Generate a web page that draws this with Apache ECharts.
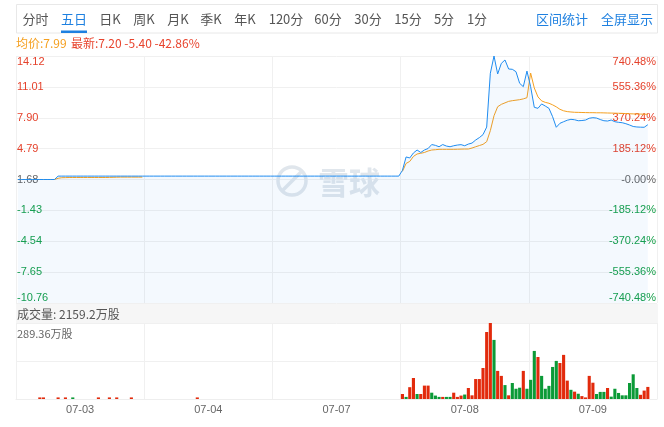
<!DOCTYPE html>
<html><head><meta charset="utf-8">
<script src="https://cdn.jsdelivr.net/npm/echarts@6/dist/echarts.min.js"></script>
<style>html,body{margin:0;padding:0;background:#fff}#c{width:664px;height:427px}</style>
</head><body><div id="c"></div>
<script>
// ---------- data ----------
const basePrice = 1.68;           // reference price of the 5-day chart
const priceStep = 3.11;           // y tick step
const dayLabels = ['07-03', '07-04', '07-07', '07-08', '07-09'];
const slotsPerDay = 35;
const volMax = 289.36;            // 万股
const headerAvg = '均价:7.99';
const headerLast = '最新:7.20 -5.40 -42.86%';
const headerVol = '成交量: 2159.2万股';
const tabs = ['分时','五日','日K','周K','月K','季K','年K','120分','60分','30分','15分','5分','1分'];
const tabsRight = ['区间统计','全屏显示'];

const priceDay1 = [1.68,1.68,1.68,1.68,1.68,1.68,1.68,1.68,1.68,1.68,1.68,2.02,2.02,2.02,2.02,2.02,2.02,2.02,2.02,2.02,2.02,2.02,2.02,2.02,2.02,2.02,2.02,2.02,2.02,2.02,2.02,2.02,2.02,2.02,2.02];
const priceDay2 = [2.02,2.02,2.02,2.02,2.02,2.02,2.02,2.02,2.02,2.02,2.02,2.02,2.02,2.02,2.02,2.02,2.02,2.02,2.02,2.02,2.02,2.02,2.02,2.02,2.02,2.02,2.02,2.02,2.02,2.02,2.02,2.02,2.02,2.02,2.02];
const priceDay3 = [2.02,2.02,2.02,2.02,2.02,2.02,2.02,2.02,2.02,2.02,2.02,2.02,2.02,2.02,2.02,2.02,2.02,2.02,2.02,2.02,2.02,2.02,2.02,2.02,2.02,2.02,2.02,2.02,2.02,2.02,2.02,2.02,2.02,2.02,2.02];
const priceDay4 = [2.6,3.95,3.85,4.35,4.65,4.4,4.65,4.8,5.2,5.12,4.98,5.2,5.05,4.98,5.08,5.15,5.19,5.08,5.25,5.35,5.66,5.9,6.2,6.96,12.38,14.12,12.31,13.38,13.72,12.81,12.78,12.54,11.37,11.03,12.60];
const priceDay5 = [11.03,8.95,8.85,9.29,9.08,8.85,8.01,6.94,7.34,7.5,7.65,7.74,7.7,7.6,7.62,7.67,7.85,7.91,7.87,7.72,7.6,7.57,7.67,7.5,7.44,7.40,7.3,7.17,7.02,6.97,6.95,6.94,7.20];

const avgDay1 = [1.68,1.68,1.68,1.68,1.68,1.68,1.68,1.68,1.68,1.68,1.68,1.8,1.86,1.87,1.88,1.88,1.88,1.88,1.88,1.88,1.88,1.88,1.88,1.88,1.88,1.89,1.9,1.91,1.92,1.92,1.92,1.92,1.92,1.92,1.92];
const avgDay2 = [];
const avgDay3 = [];
const avgDay4 = [2.5,3.3,3.5,4.0,4.25,4.32,4.4,4.55,4.65,4.68,4.72,4.72,4.72,4.72,4.72,4.73,4.74,4.75,4.75,4.85,4.98,5.1,5.22,5.49,6.6,8.1,9.01,9.25,9.4,9.55,9.62,9.67,9.72,9.8,9.92];
const avgDay5 = [12.4,10.9,10.0,9.6,9.45,9.36,9.2,9.0,8.75,8.6,8.52,8.48,8.45,8.44,8.43,8.42,8.41,8.41,8.4,8.4,8.39,8.38,8.37,8.36,8.35,8.34,8.32,8.3,8.29,8.28,8.27,8.26,8.25];

const volDay1 = [0,0,0,0,0,0,6,6,0,0,0,6,0,6,0,6,0,0,0,0,0,0,6,0,0,6,0,6,0,0,0,6,0,0,0];
const volDay2 = [0,0,0,0,0,0,0,0,0,0,0,0,0,0,6,0,0,0,0,0,0,0,0,0,0,0,0,0,0,0,0,0,0,0,0];
const volDay3 = [0,0,0,0,0,0,0,0,0,0,0,0,0,0,0,0,0,0,0,0,0,0,0,0,0,0,0,0,0,0,0,0,0,0,0];
const volDay4 = [19,8,45,80,19,19,51,51,24,13,8,8,8,8,24,8,13,17,42,14,76,76,118,255,289.36,225,107,88,53,14,61,39,43,107,39];
const volDay5 = [73,183,160,88,39,50,122,145,137,168,70,35,28,20,11,6,88,62,19,27,27,42,9,39,23,14,14,61,94,42,16,32,46];
// 1 = up (red), -1 = down (green)
const dirDay1 = [1,1,1,1,1,1,1,1,1,1,1,1,1,1,1,-1,1,1,1,1,1,1,1,1,1,1,1,1,1,1,1,1,1,1,1];
const dirDay2 = [1,1,1,1,1,1,1,1,1,1,1,1,1,1,1,1,1,1,1,1,1,1,1,1,1,1,1,1,1,1,1,1,1,1,1];
const dirDay3 = [1,1,1,1,1,1,1,1,1,1,1,1,1,1,1,1,1,1,1,1,1,1,1,1,1,1,1,1,1,1,1,1,1,1,1];
const dirDay4 = [1,-1,1,1,-1,1,1,1,-1,-1,-1,1,-1,-1,1,1,1,-1,1,1,1,1,1,1,1,-1,1,1,-1,1,-1,-1,-1,1,-1];
const dirDay5 = [-1,-1,1,-1,-1,-1,-1,-1,1,1,1,-1,1,-1,1,1,1,1,-1,-1,-1,1,-1,-1,-1,-1,-1,-1,-1,-1,1,1,1];

// ---------- build ----------
const RED = '#e5412b', GREEN = '#17a04a', GRAY = '#666';
const BAR_RED = '#e22a0c', BAR_GREEN = '#0b9a37';
const FONT = '"Liberation Sans", Arial, "Noto Sans CJK SC", sans-serif';
const CJK = '"Noto Sans CJK SC", "Liberation Sans", sans-serif';

function pad(arr) { const a = arr.slice(); while (a.length < slotsPerDay) a.push(null); return a; }
const cats = [];
dayLabels.forEach(d => { for (let i = 0; i < slotsPerDay; i++) cats.push(d + '#' + i); });
const priceDays = [priceDay1, priceDay2, priceDay3, priceDay4, priceDay5];
const avgDays = [avgDay1, avgDay2, avgDay3, avgDay4, avgDay5];
const volDays = [volDay1, volDay2, volDay3, volDay4, volDay5];
const dirDays = [dirDay1, dirDay2, dirDay3, dirDay4, dirDay5];
// plotted relative to the base price so that ticks sit on base ± k*step
const priceData = [].concat(...priceDays.map(pad)).map(v => v == null ? null : +(v - basePrice).toFixed(4));
const avgData = [].concat(...avgDays.map(pad)).map(v => v == null ? null : +(v - basePrice).toFixed(4));
const volData = [];
volDays.forEach((vd, k) => { pad(vd).forEach((v, i) => {
  volData.push(v == null ? null : { value: v, itemStyle: { color: dirDays[k][i] > 0 ? BAR_RED : BAR_GREEN } });
}); });
const halfRange = priceStep * 4;

const gridLine = { show: true, lineStyle: { color: '#f0f0f0', width: 1 } };
const daySplit = { show: true, interval: (idx) => idx % slotsPerDay === 0, lineStyle: { color: '#f0f0f0', width: 1 } };
const signColor = (v) => { const n = parseFloat(v); return n > 1e-6 ? RED : (n < -1e-6 ? GREEN : GRAY); };

const graphics = [
  { type: 'rect', shape: { x: 16.5, y: 4.5, width: 641, height: 28.5 }, style: { fill: '#fff', stroke: '#e8e8e8', lineWidth: 1 }, z: 0 },
  { type: 'rect', shape: { x: 61, y: 30.5, width: 26, height: 2.5 }, style: { fill: '#1e80e0' }, z: 1 },
  { type: 'text', x: 16, y: 43, style: { text: headerAvg, fill: '#f5a020', font: '12px ' + CJK, textVerticalAlign: 'middle' } },
  { type: 'text', x: 71, y: 43, style: { text: headerLast, fill: '#e8442e', font: '12px ' + CJK, textVerticalAlign: 'middle' } },
  { type: 'rect', shape: { x: 16, y: 304, width: 642, height: 19 }, style: { fill: '#f6f6f6' }, z: 0 },
  { type: 'text', x: 17, y: 314, style: { text: headerVol, fill: '#555', font: '12px ' + CJK, textVerticalAlign: 'middle' } },
  { type: 'text', x: 17, y: 334, style: { text: volMax.toFixed(2) + '万股', fill: '#666', font: '11px ' + CJK, textVerticalAlign: 'middle' } },
  // watermark
  { type: 'circle', shape: { cx: 292, cy: 181, r: 14 }, style: { fill: 'none', stroke: '#e0e6ec', lineWidth: 3.5 }, z: 1 },
  { type: 'line', shape: { x1: 283, y1: 190, x2: 301, y2: 172 }, style: { stroke: '#e0e6ec', lineWidth: 3.5 }, z: 1 },
  { type: 'text', x: 318, y: 182, style: { text: '雪球', fill: '#e0e6ec', font: 'bold 31px ' + CJK, textVerticalAlign: 'middle' }, z: 1 }
];
const tabX = [35.5, 74, 110, 144, 178, 211, 245, 286, 328, 368, 408, 444, 477];
tabs.forEach((t, i) => graphics.push({ type: 'text', x: tabX[i], y: 19, z: 2,
  style: { text: t, fill: i === 1 ? '#1e80e0' : '#555', font: '13px ' + CJK, textAlign: 'center', textVerticalAlign: 'middle' } }));
const tabRX = [562, 627];
tabsRight.forEach((t, i) => graphics.push({ type: 'text', x: tabRX[i], y: 19, z: 2,
  style: { text: t, fill: '#1e80e0', font: '13px ' + CJK, textAlign: 'center', textVerticalAlign: 'middle' } }));

const option = {
  animation: false,
  backgroundColor: '#fff',
  graphic: graphics,
  grid: [
    { left: 16, right: 7, top: 56, height: 247 },
    { left: 16, right: 7, top: 323, height: 76 }
  ],
  xAxis: [
    { type: 'category', gridIndex: 0, data: cats, boundaryGap: true,
      axisLine: { show: false }, axisTick: { show: false }, axisLabel: { show: false }, splitLine: daySplit },
    { type: 'category', gridIndex: 1, data: cats, boundaryGap: true,
      axisLine: { show: true, lineStyle: { color: '#eeeeee' } }, axisTick: { show: false },
      axisLabel: { interval: (idx) => idx % slotsPerDay === 17, formatter: (v) => v.split('#')[0],
        color: '#666', fontSize: 11, fontFamily: FONT, margin: 5 },
      splitLine: daySplit }
  ],
  yAxis: [
    { type: 'value', gridIndex: 0, position: 'left', min: -halfRange, max: halfRange, interval: priceStep,
      axisLine: { show: false }, axisTick: { show: false }, splitLine: gridLine,
      axisLabel: { inside: true, margin: 1, fontSize: 11, fontFamily: FONT,
        verticalAlignMaxLabel: 'top', verticalAlignMinLabel: 'bottom',
        formatter: (v) => (v + basePrice).toFixed(2), color: (v) => signColor(v) } },
    { type: 'value', gridIndex: 0, position: 'right', min: -halfRange, max: halfRange, interval: priceStep,
      axisLine: { show: false }, axisTick: { show: false }, splitLine: { show: false },
      axisLabel: { inside: true, margin: 1, fontSize: 11, fontFamily: FONT,
        verticalAlignMaxLabel: 'top', verticalAlignMinLabel: 'bottom',
        formatter: (v) => (Math.abs(v) < 1e-6 ? '-0.00' : (v / basePrice * 100).toFixed(2)) + '%',
        color: (v) => signColor(v) } },
    { type: 'value', gridIndex: 1, min: 0, max: volMax, interval: volMax / 2,
      axisLine: { show: false }, axisTick: { show: false }, axisLabel: { show: false }, splitLine: gridLine }
  ],
  series: [
    { name: '均价', type: 'line', xAxisIndex: 0, yAxisIndex: 0, data: avgData, showSymbol: false, symbol: 'none',
      lineStyle: { color: '#f5a020', width: 1 }, z: 3, silent: true },
    { name: '价格', type: 'line', xAxisIndex: 0, yAxisIndex: 0, data: priceData, showSymbol: false, symbol: 'none',
      lineStyle: { color: '#1f8cf0', width: 1 }, z: 4, silent: true,
      areaStyle: { origin: 'start', color: 'rgba(40,130,230,0.075)' } },
    { name: '成交量', type: 'bar', xAxisIndex: 1, yAxisIndex: 2, data: volData, barCategoryGap: '15%', silent: true }
  ]
};
const chart = echarts.init(document.getElementById('c'), null, { renderer: 'canvas' });
chart.setOption(option);
</script></body></html>
